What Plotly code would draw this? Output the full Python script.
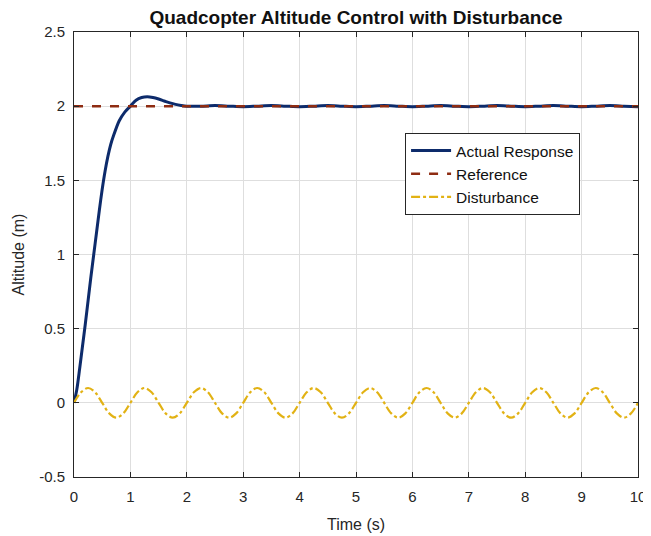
import plotly.graph_objects as go

# ---- data ----
t_resp = [0, 0.05, 0.1, 0.15, 0.2, 0.25, 0.3, 0.35, 0.4, 0.45, 0.5, 0.55, 0.6, 0.65,
          0.7, 0.8, 0.9, 1.0, 1.1, 1.2, 1.3, 1.4, 1.5, 1.6, 1.7, 1.8, 1.9, 2.0,
          2.25, 2.5, 2.75, 3.0, 3.25, 3.5, 3.75, 4.0, 4.25, 4.5, 4.75, 5.0,
          5.25, 5.5, 5.75, 6.0, 6.25, 6.5, 6.75, 7.0, 7.25, 7.5, 7.75, 8.0,
          8.25, 8.5, 8.75, 9.0, 9.25, 9.5, 9.75, 10.0]
y_resp = [0.0, 0.09, 0.23, 0.38, 0.53, 0.69, 0.85, 1.0, 1.15, 1.3, 1.44, 1.56, 1.66, 1.74,
          1.8, 1.9, 1.96, 2.0, 2.04, 2.058, 2.063, 2.058, 2.048, 2.035, 2.022, 2.012, 2.005, 2.0,
          2.0, 2.004, 2.0, 1.996, 2.0, 2.004, 2.0, 1.996, 2.0, 2.004, 2.0, 1.996,
          2.0, 2.004, 2.0, 1.996, 2.0, 2.004, 2.0, 1.996, 2.0, 2.004, 2.0, 1.996,
          2.0, 2.004, 2.0, 1.996, 2.0, 2.004, 2.0, 1.996]

t_ref = [0, 10]
y_ref = [2, 2]

t_dist = [i * 0.125 for i in range(81)]
y_dist = [0.0, 0.071, 0.1, 0.071, 0.0, -0.071, -0.1, -0.071,
          0.0, 0.071, 0.1, 0.071, 0.0, -0.071, -0.1, -0.071,
          0.0, 0.071, 0.1, 0.071, 0.0, -0.071, -0.1, -0.071,
          0.0, 0.071, 0.1, 0.071, 0.0, -0.071, -0.1, -0.071,
          0.0, 0.071, 0.1, 0.071, 0.0, -0.071, -0.1, -0.071,
          0.0, 0.071, 0.1, 0.071, 0.0, -0.071, -0.1, -0.071,
          0.0, 0.071, 0.1, 0.071, 0.0, -0.071, -0.1, -0.071,
          0.0, 0.071, 0.1, 0.071, 0.0, -0.071, -0.1, -0.071,
          0.0, 0.071, 0.1, 0.071, 0.0, -0.071, -0.1, -0.071,
          0.0, 0.071, 0.1, 0.071, 0.0, -0.071, -0.1, -0.071,
          0.0]

x_ticks = [0, 1, 2, 3, 4, 5, 6, 7, 8, 9, 10]
y_ticks = [-0.5, 0, 0.5, 1, 1.5, 2, 2.5]
y_tick_text = ["-0.5", "0", "0.5", "1", "1.5", "2", "2.5"]

FONT = "Liberation Sans, Arial, Helvetica, sans-serif"

# page body has an 8px default margin, so the figure is sized to fit the window
W, H = 643, 528

fig = go.Figure()
fig.add_trace(go.Scatter(x=t_resp, y=y_resp, mode="lines", name="Actual Response",
                         line=dict(color="#0d2b6b", width=3, shape="spline", smoothing=0.8)))
fig.add_trace(go.Scatter(x=t_ref, y=y_ref, mode="lines", name="Reference",
                         line=dict(color="#8e2c12", width=2.5, dash="dash")))
fig.add_trace(go.Scatter(x=t_dist, y=y_dist, mode="lines", name="Disturbance",
                         line=dict(color="#e2b214", width=2.2, dash="dashdot", shape="spline")))

axis_common = dict(showgrid=True, gridcolor="#dedede", gridwidth=1,
                   showline=True, linecolor="#262626", linewidth=1, mirror="allticks",
                   ticks="inside", ticklen=5, tickcolor="#262626", zeroline=False,
                   automargin=False,
                   tickfont=dict(family=FONT, size=15, color="#262626"))

fig.update_layout(
    width=W, height=H,
    margin=dict(l=66, r=13, t=24, b=59),
    paper_bgcolor="white", plot_bgcolor="white",
    title=dict(text="<b>Quadcopter Altitude Control with Disturbance</b>",
               font=dict(family=FONT, size=19, color="#111111"),
               x=348 / W, xanchor="center",
               y=1 - 9 / H, yanchor="middle"),
    legend=dict(x=0.587, y=0.773, xanchor="left", yanchor="top",
                bgcolor="white", bordercolor="#262626", borderwidth=1,
                font=dict(family=FONT, size=15.5, color="#111111"),
                tracegroupgap=0, itemwidth=40),
    showlegend=True,
)
fig.update_xaxes(range=[0, 10], tickvals=x_ticks, ticklabelstandoff=6,
                 title=dict(text="Time (s)", font=dict(family=FONT, size=16, color="#262626"), standoff=14),
                 **axis_common)
fig.update_yaxes(range=[-0.5, 2.5], tickvals=y_ticks, ticktext=y_tick_text, ticklabelstandoff=5,
                 title=dict(text="Altitude (m)", font=dict(family=FONT, size=16, color="#262626"), standoff=10),
                 **axis_common)

fig.write_html("out.html")
